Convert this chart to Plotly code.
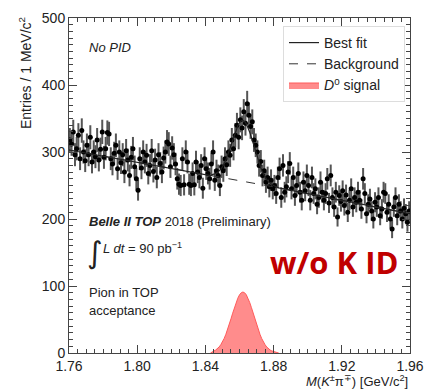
import numpy as np
import plotly.graph_objects as go

# ---- data ----
bin_lo = 1.76
bin_w = 0.001
counts = [
    318, 312, 330, 296, 305, 325, 290, 332, 300, 287,
    310, 296, 322, 285, 300, 293, 318, 288, 304, 330,
    292, 305, 329, 327, 290, 282, 298, 310, 275, 300,
    284, 296, 270, 302, 288, 265, 292, 305, 278, 260,
    243, 290, 276, 300, 285, 295, 268, 280, 302, 271,
    288, 262, 296, 283, 270, 291, 300, 315, 312, 278,
    306, 296, 282, 260, 252, 250, 290, 251, 300, 285,
    252, 250, 268, 251, 285, 270, 262, 280, 246, 290,
    275, 268, 260, 282, 300, 258, 272, 265, 250, 278,
    272, 290, 281, 300, 295, 318, 305, 325, 340, 322,
    348, 336, 360, 343, 372, 355, 338, 345, 318, 310,
    300, 280, 286, 265, 272, 255, 262, 248, 258, 245,
    250, 238, 262, 275, 232, 280, 240, 248, 270, 283,
    245, 262, 235, 250, 268, 240, 228, 255, 242, 265,
    250, 228, 262, 238, 245, 222, 232, 255, 240, 228,
    238, 260, 224, 265, 232, 218, 240, 203, 235, 226,
    242, 220, 236, 210, 228, 245, 218, 232, 225, 240,
    228, 215, 260, 238, 208, 222, 230, 212, 200, 225,
    218, 232, 205, 215, 240, 238, 210, 222, 200, 185,
    218, 232, 205, 222, 212, 200, 216, 208, 195, 212,
]

bkg_x = [1.76, 1.80, 1.84, 1.88, 1.92, 1.96]
bkg_y = [303, 285, 266, 248, 227, 208]

sig_x = [round(1.843 + 0.001 * k, 3) for k in range(41)]
sig_y = [0, 2.0, 3.0, 4.4, 6.4, 8.9, 12.3, 16.5, 21.7, 27.9, 34.9, 42.7, 51.0, 59.4,
         67.7, 75.3, 81.8, 86.8, 89.9, 91.0, 89.9, 86.8, 81.8, 75.3, 67.7, 59.4,
         51.0, 42.7, 34.9, 27.9, 21.7, 16.5, 12.3, 8.9, 6.4, 4.4, 3.0, 2.0, 1.2, 0.6, 0]

x_ticks = [1.76, 1.80, 1.84, 1.88, 1.92, 1.96]
y_ticks = [0, 100, 200, 300, 400, 500]

# ---- derived ----
counts = np.array(counts, dtype=float)
centers = bin_lo + bin_w * (np.arange(len(counts)) + 0.5)
errs = np.sqrt(counts)

fit_x = np.concatenate([[1.76], np.array(sig_x), [1.96]])
fit_y = np.interp(fit_x, bkg_x, bkg_y) + np.concatenate([[0], np.array(sig_y), [0]])

FONT = "Liberation Sans, Arial, sans-serif"

fig = go.Figure()

fig.add_trace(go.Scatter(
    x=centers, y=counts, mode="markers",
    marker=dict(color="black", size=5),
    error_y=dict(type="data", array=errs, color="#555555", thickness=2, width=0),
    showlegend=False,
))
fig.add_trace(go.Scatter(
    x=sig_x, y=sig_y, mode="lines", fill="tozeroy",
    line=dict(color="#ff5a5a", width=1),
    fillcolor="rgba(255,120,120,0.85)",
    name="<i>D</i><sup>0</sup> signal", legendrank=3, legendgroup="c",
))
fig.add_trace(go.Scatter(
    x=bkg_x, y=bkg_y, mode="lines",
    line=dict(color="#333333", width=1, dash="dash"),
    name="Background", legendrank=2, legendgroup="b",
))
fig.add_trace(go.Scatter(
    x=fit_x, y=fit_y, mode="lines",
    line=dict(color="#222222", width=1.2),
    name="Best fit", legendrank=1, legendgroup="a",
))

axis_common = dict(
    showline=True, linecolor="#444444", linewidth=1, mirror="ticks",
    ticks="inside", ticklen=8, tickcolor="#444444",
    showgrid=False, zeroline=False, automargin=False,
    tickfont=dict(family=FONT, size=14, color="#222222"),
)
fig.update_xaxes(
    range=[1.76, 1.96], tickvals=x_ticks,
    ticktext=[f"{v:.2f}" for v in x_ticks],
    minor=dict(ticks="inside", ticklen=4, dtick=0.005, tick0=1.76, tickcolor="#444444"),
    **axis_common,
)
fig.update_yaxes(
    range=[0, 500], tickvals=y_ticks,
    minor=dict(ticks="inside", ticklen=4, dtick=10, tickcolor="#444444"),
    **axis_common,
)

# annotation positions given in window pixels
ann = [
    dict(x=87, y=47, text="<i>No PID</i>", size=13),
    dict(x=87, y=221, text="<b><i>Belle II TOP</i></b> 2018 (Preliminary)", size=13),
    dict(x=101, y=248, text="<i>L dt</i> = 90 pb<sup>−1</sup>", size=13),
    dict(x=87, y=292, text="Pion in TOP", size=13),
    dict(x=87, y=310, text="acceptance", size=13),
]
for a in ann:
    fig.add_annotation(x=a["x"], y=a["y"], xref="paper", yref="paper",
                       text=a["text"], showarrow=False, xanchor="left", yanchor="middle",
                       font=dict(family=FONT, size=a["size"], color="#222222"))
fig.add_annotation(x=85, y=252, xref="paper", yref="paper", text="∫",
                   showarrow=False, xanchor="left", yanchor="middle",
                   font=dict(family="DejaVu Sans", size=30, color="#222222"))
fig.add_annotation(x=334, y=262, xref="paper", yref="paper", text="<b>w/o K ID</b>",
                   showarrow=False, xanchor="center", yanchor="middle",
                   font=dict(family="Open Sans, sans-serif", size=31, color="#c00000"))
fig.add_annotation(x=410, y=381, xref="paper", yref="paper",
                   text="<i>M</i>(<i>K</i><sup>±</sup>π<sup>∓</sup>) [GeV/c<sup>2</sup>]",
                   showarrow=False, xanchor="right", yanchor="middle",
                   font=dict(family=FONT, size=13, color="#222222"))
fig.add_annotation(x=25, y=15, xref="paper", yref="paper",
                   text="Entries / 1 MeV/c<sup>2</sup>", textangle=-90,
                   showarrow=False, xanchor="center", yanchor="top",
                   font=dict(family=FONT, size=14, color="#222222"))

W, H = 424, 390
L, R, T, B = 69, 14, 18, 37
pw, ph = W - L - R, H - T - B
for a in fig.layout.annotations:
    a.x = (a.x - L) / pw
    a.y = 1 - (a.y - T) / ph

fig.update_layout(
    width=W, height=H,
    margin=dict(l=L, r=R, t=T, b=B, autoexpand=False),
    plot_bgcolor="white", paper_bgcolor="white",
    font=dict(family=FONT, color="#222222"),
    legend=dict(
        x=(405 - L) / pw, y=1 - (26 - T) / ph, xanchor="right", yanchor="top",
        bgcolor="white", bordercolor="#dddddd", borderwidth=1,
        font=dict(family=FONT, size=14, color="#222222"),
        traceorder="normal", itemwidth=30, tracegroupgap=2,
    ),
)

fig.write_html(
    "out.html",
    config={"displayModeBar": False},
    post_script="document.body.style.margin='0';document.body.style.overflow='hidden';",
)
